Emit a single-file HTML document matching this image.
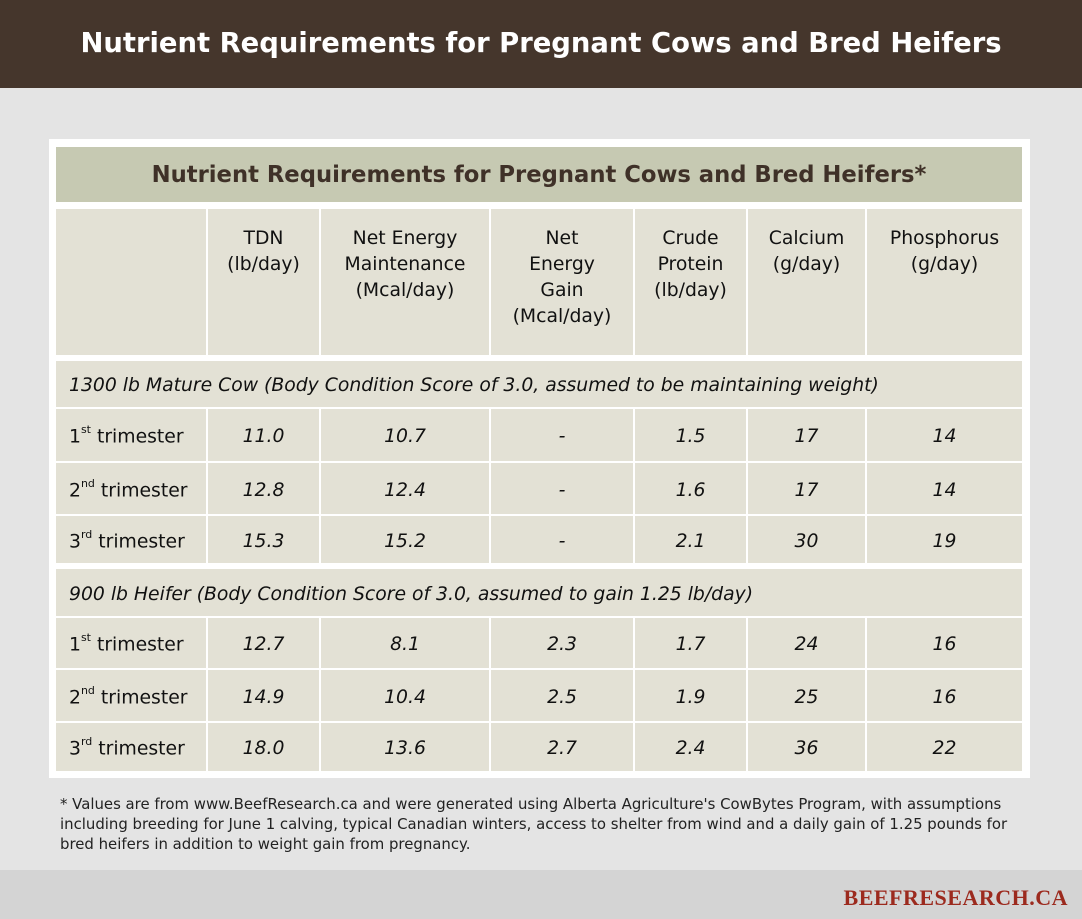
<!DOCTYPE html>
<html><head><meta charset="utf-8"><style>
*{margin:0;padding:0;box-sizing:border-box}
body{width:1082px;height:919px;background:#e4e4e4;position:relative;overflow:hidden;font-family:"DejaVu Sans","Liberation Sans",sans-serif;color:#111}
.hdr{position:absolute;left:0;top:0;width:1082px;height:88px;background:#45362c;color:#fff;font-weight:bold;font-size:27.4px;text-align:center;line-height:88px;padding-left:0}
.box{position:absolute;left:49px;top:139px;width:981px;height:639px;background:#fff}
.c{position:absolute;background:#e3e1d5;display:flex;align-items:center;justify-content:center;text-align:center;font-size:18.8px;padding-top:3px}
.h{align-items:flex-start;padding-top:17px;line-height:26px}
.i{font-style:italic}
.l{justify-content:flex-start;padding-left:13px}
sup{font-size:11px;position:relative;top:-2px}
.foot{position:absolute;left:60px;top:794px;font-size:14.9px;line-height:20px;color:#222}
.band{position:absolute;left:0;top:870px;width:1082px;height:49px;background:#d4d4d4}
.logo{position:absolute;right:14px;top:885px;font-family:"Liberation Serif",serif;font-weight:bold;font-size:22px;color:#9c2a1e;letter-spacing:0.5px}
</style></head><body>
<div class="hdr">Nutrient Requirements for Pregnant Cows and Bred Heifers</div>
<div class="box"></div>
<div class="c" style="left:56px;top:147px;width:966px;height:55px;background:#c6c9b2;font-weight:bold;font-size:22.7px;color:#3f3128;padding-top:0">Nutrient Requirements for Pregnant Cows and Bred Heifers*</div>
<div id="t"></div>
<div class="foot">* Values are from www.BeefResearch.ca and were generated using Alberta Agriculture's CowBytes Program, with assumptions<br>including breeding for June 1 calving, typical Canadian winters, access to shelter from wind and a daily gain of 1.25 pounds for<br>bred heifers in addition to weight gain from pregnancy.</div>
<div class="band"></div>
<div class="logo">BEEFRESEARCH.CA</div>
<script>
var cols=[[56,150],[208,111],[321,168],[491,142],[635,111],[748,117],[867,155]];
var hd=["","TDN<br>(lb/day)","Net Energy<br>Maintenance<br>(Mcal/day)","Net<br>Energy<br>Gain<br>(Mcal/day)","Crude<br>Protein<br>(lb/day)","Calcium<br>(g/day)","Phosphorus<br>(g/day)"];
var h="";
cols.forEach(function(c,i){h+='<div class="c h" style="left:'+c[0]+'px;top:209px;width:'+c[1]+'px;height:146px">'+hd[i]+'</div>';});
function sec(y,hh,t){h+='<div class="c i l" style="left:56px;top:'+y+'px;width:966px;height:'+hh+'px">'+t+'</div>';}
var lab=['<span>1<sup>st</sup> trimester</span>','<span>2<sup>nd</sup> trimester</span>','<span>3<sup>rd</sup> trimester</span>'];
function rows(ys,data){ys.forEach(function(r,k){cols.forEach(function(c,i){
 var t=i==0?lab[k]:data[k][i-1];
 h+='<div class="c'+(i==0?' l':' i')+'" style="left:'+c[0]+'px;top:'+r[0]+'px;width:'+c[1]+'px;height:'+r[1]+'px">'+t+'</div>';});});}
sec(361,46,"1300 lb Mature Cow (Body Condition Score of 3.0, assumed to be maintaining weight)");
rows([[409,52],[463,51],[516,47]],[["11.0","10.7","-","1.5","17","14"],["12.8","12.4","-","1.6","17","14"],["15.3","15.2","-","2.1","30","19"]]);
sec(569,47,"900 lb Heifer (Body Condition Score of 3.0, assumed to gain 1.25 lb/day)");
rows([[618,50],[670,51],[723,48]],[["12.7","8.1","2.3","1.7","24","16"],["14.9","10.4","2.5","1.9","25","16"],["18.0","13.6","2.7","2.4","36","22"]]);
document.getElementById("t").innerHTML=h;
</script>
</body></html>
